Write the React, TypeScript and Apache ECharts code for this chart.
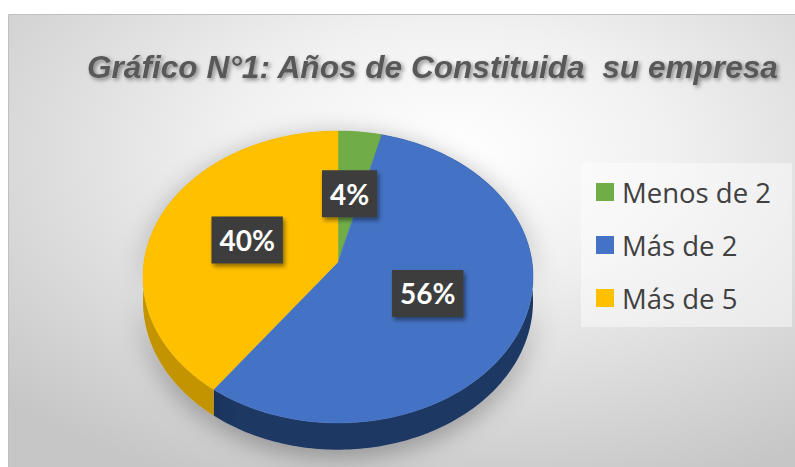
import React, { useEffect, useRef } from "react";
import * as echarts from "echarts";

const TITLE = "Gráfico N°1: Años de Constituida  su empresa";
const categories = ["Menos de 2", "Más de 2", "Más de 5"];
const values = [4, 56, 40];
const topColors = ["#70AD47", "#4472C4", "#FFC000"];
const sideColors = ["#4E7A31", "#1F3864", "#C39300"];

// 3D pie geometry (layout only)
const CX = 338;
const CY = 262;
const RX = 194;
const RY = 144.4;
const PERSP = 0.1027;
const DEPTH = 24;

function proj(theta: number, rho: number, drop: number): [number, number] {
  const u = Math.sin(theta) * rho;
  const v = -Math.cos(theta) * rho;
  const f = 1 / (1 - PERSP * v);
  return [CX + RX * u * f, CY + RY * v * f + DEPTH * f * drop];
}

function arc(a0: number, a1: number, drop: number): [number, number][] {
  const pts: [number, number][] = [];
  const n = Math.max(2, Math.ceil(Math.abs(a1 - a0) / (Math.PI / 180)));
  for (let i = 0; i <= n; i++) {
    const a = a0 + ((a1 - a0) * i) / n;
    pts.push(proj(a, 1, drop));
  }
  return pts;
}

export default function App() {
  const ref = useRef<HTMLDivElement>(null);
  useEffect(() => {
    if (!ref.current) return;
    const chart = echarts.init(ref.current, undefined, { renderer: "svg" });
    const total = values.reduce((a, b) => a + b, 0);
    const starts: number[] = [];
    let acc = 0;
    values.forEach((v) => {
      starts.push(acc);
      acc += v;
    });

    const renderItem = (params: any, api: any) => {
      const i = params.dataIndex;
      const v = api.value(0);
      const a0 = (starts[i] / total) * Math.PI * 2;
      const a1 = ((starts[i] + v) / total) * Math.PI * 2;
      const topArc = arc(a0, a1, 0);
      const botArc = arc(a0, a1, 1).reverse();
      const center = proj(0, 0, 0);
      const mid = (a0 + a1) / 2;
      const lp = proj(mid, 0.5, 0);
      return {
        type: "group",
        children: [
          {
            type: "polygon",
            z2: 1,
            shape: { points: topArc.concat(botArc) },
            style: {
              fill: sideColors[i],
              shadowBlur: 26,
              shadowColor: "rgba(0,0,0,0.35)",
              shadowOffsetY: 6,
            },
          },
          {
            type: "polygon",
            z2: 10,
            shape: { points: [center].concat(topArc) },
            style: { fill: topColors[i], stroke: topColors[i], lineWidth: 0.5 },
          },
          {
            type: "text",
            z2: 20,
            x: lp[0],
            y: lp[1],
            style: {
              text: Math.round((v / total) * 100) + "%",
              fill: "#ffffff",
              font: "bold 28px Lato",
              lineHeight: 29,
              align: "center",
              verticalAlign: "middle",
              backgroundColor: "#3e3e3e",
              padding: [9, 8, 9, 8],
              shadowBlur: 4,
              shadowColor: "rgba(0,0,0,0.45)",
              shadowOffsetX: 2,
              shadowOffsetY: 3,
            },
          },
        ],
      };
    };

    chart.setOption({
      animation: false,
      graphic: [
        {
          type: "rect",
          z: -10,
          silent: true,
          shape: { x: 8.5, y: 14.5, width: 790, height: 460 },
          style: {
            fill: new echarts.graphic.RadialGradient(0.56, 0.3, 0.78, [
              { offset: 0, color: "#ffffff" },
              { offset: 0.35, color: "#f1f1f1" },
              { offset: 1, color: "#c6c6c6" },
            ]),
            stroke: "#c0c0c0",
            lineWidth: 1,
          },
        },
      ],
      title: {
        text: TITLE,
        left: 87,
        top: 51,
        padding: 0,
        textStyle: {
          fontFamily: "Liberation Sans",
          fontStyle: "italic",
          fontWeight: "bold",
          fontSize: 31.6,
          color: "#595959",
          textShadowColor: "rgba(0,0,0,0.45)",
          textShadowBlur: 4,
          textShadowOffsetX: 2,
          textShadowOffsetY: 2,
        },
      },
      legend: {
        orient: "vertical",
        left: 581,
        top: 163,
        padding: [14, 21, 14, 15],
        backgroundColor: "rgba(255,255,255,0.45)",
        itemWidth: 18,
        itemHeight: 18,
        itemGap: 23,
        icon: "rect",
        selectedMode: false,
        data: categories,
        textStyle: {
          fontFamily: "Open Sans",
          fontSize: 27.5,
          lineHeight: 30,
          color: "#404040",
          padding: [0, 0, 0, 3],
        },
      },
      series: [
        {
          type: "pie",
          radius: [0, 0],
          center: [CX, CY],
          silent: true,
          label: { show: false },
          labelLine: { show: false },
          data: categories.map((c, i) => ({
            name: c,
            value: values[i],
            itemStyle: { color: topColors[i] },
          })),
        },
        {
          type: "custom",
          coordinateSystem: "none",
          silent: true,
          renderItem,
          data: values,
        },
      ],
    });
    return () => chart.dispose();
  }, []);
  return (
    <div
      ref={ref}
      style={{ position: "fixed", left: 0, top: 0, width: 795, height: 467, background: "#ffffff" }}
    />
  );
}
